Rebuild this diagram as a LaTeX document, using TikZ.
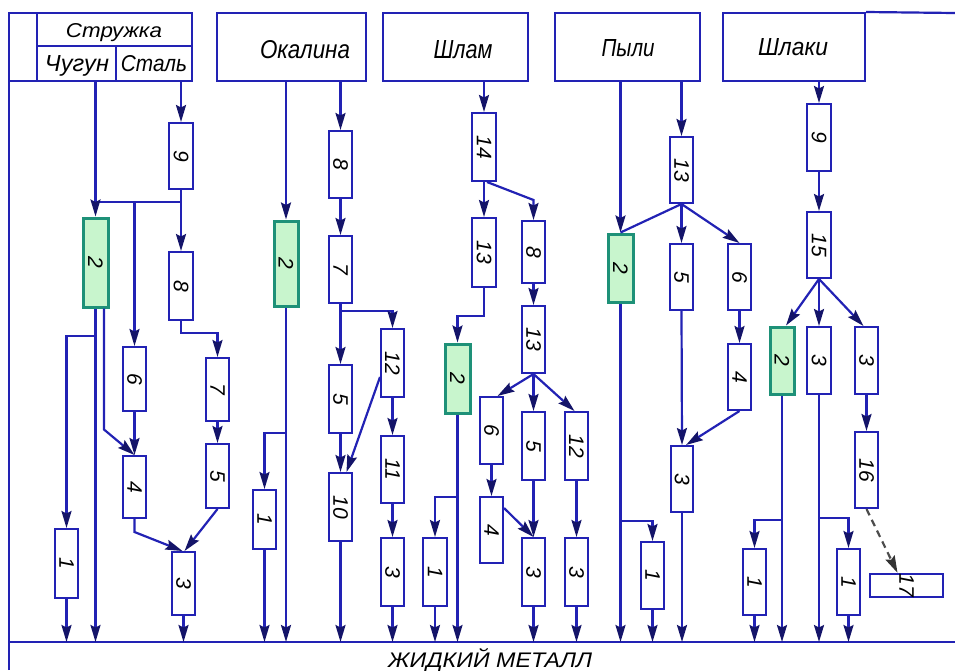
\documentclass[tikz,border=0pt]{standalone}
\usepackage{fontspec}
\setmainfont{Liberation Sans}
\usetikzlibrary{arrows.meta}
\definecolor{wire}{RGB}{34,34,180}
\definecolor{tip}{RGB}{20,20,105}
\definecolor{greenfill}{RGB}{200,245,205}
\definecolor{greenedge}{RGB}{30,145,120}
\tikzset{
  ln/.style={draw=wire, line width=2.2pt},
  arr/.style={ln, -{Stealth[length=17pt,width=10pt,inset=2.5pt,color=tip,fill=tip]}},
  dasharr/.style={ln, draw=black!70, dash pattern=on 7pt off 5pt,
    -{Stealth[length=17pt,width=10pt,inset=2.5pt,color=black!80,fill=black!80]}},
  pbox/.style={draw=wire, line width=2pt, fill=white, inner sep=0pt,
    font=\fontsize{21}{21}\selectfont\itshape},
  hot/.style={draw=greenedge, fill=greenfill, line width=3pt},
  hcell/.style={draw=wire, line width=2pt, inner sep=0pt},
  htxt/.style={inner sep=0pt, anchor=base, font=\itshape},
}
% \procbox[style]{name}{x1}{y1}{x2}{y2}{label}
\newcommand\procbox[7][]{%
  \node[pbox,#1,minimum width={(#5-#3)*1pt},minimum height={(#6-#4)*1pt}]
    (#2) at ({(#3+#5)/2},{(#4+#6)/2}) {\rotatebox{-90}{#7}};}
\begin{document}
\begin{tikzpicture}[x=1pt,y=-1pt]
\useasboundingbox (0,0) rectangle (955,670);

% frame
\coordinate (base) at (9,642);
\draw[ln] (9,670) -- (9,81);
\draw[ln] (base) -- (955,642);

% header cells
\node[hcell,minimum width=28pt,minimum height=68pt] (corner) at (23,47) {};
\node[hcell,minimum width=155pt,minimum height=33pt] (struz) at (114.5,29.5) {};
\node[hcell,minimum width=79pt,minimum height=35pt] (chug) at (76.5,63.5) {};
\node[hcell,minimum width=76pt,minimum height=35pt] (stal) at (154,63.5) {};
\node[hcell,minimum width=149pt,minimum height=68pt] (okal) at (291.5,47) {};
\node[hcell,minimum width=145pt,minimum height=68pt] (shlam) at (455.5,47) {};
\node[hcell,minimum width=145pt,minimum height=68pt] (pyli) at (627.5,47) {};
\node[hcell,minimum width=142pt,minimum height=68pt] (shlaki) at (794,47) {};
\draw[ln] (shlaki.north east) -- (955,13);

\node[htxt] at (114,37) {\resizebox{96pt}{14pt}{Стружка}};
\node[htxt] at (77,71) {\resizebox{64pt}{16pt}{Чугун}};
\node[htxt] at (154,71) {\resizebox{66pt}{16pt}{Сталь}};
\node[htxt] at (305,58) {\resizebox{90pt}{18pt}{Окалина}};
\node[htxt] at (463,58) {\resizebox{59pt}{18pt}{Шлам}};
\node[htxt] at (628,56) {\resizebox{53pt}{17pt}{Пыли}};
\node[htxt] at (793,55) {\resizebox{70pt}{17pt}{Шлаки}};
\node[htxt,anchor=base west] at (388,667) {\resizebox{204pt}{19pt}{ЖИДКИЙ МЕТАЛЛ}};

% ---- chips
\procbox{s9}{169}{123}{193}{189}{9}
\procbox[hot]{s2}{83}{218}{108}{307}{2}
\procbox{s8}{169}{252}{193}{320}{8}
\procbox{s6}{123}{347}{146}{411}{6}
\procbox{s7}{206}{358}{229}{421}{7}
\procbox{s4}{123}{456}{146}{518}{4}
\procbox{s5}{206}{444}{229}{508}{5}
\procbox{s1}{55}{529}{78}{598}{1}
\procbox{s3}{172}{552}{195}{615}{3}

\coordinate (j1) at (95.5,202);
\draw[ln] (chug.south -| j1) -- (j1) -- (j1 -| s9.south);
\draw[arr] (j1) -- (s2.north);
\draw[arr] (stal.south -| s9.north) -- (s9.north);
\draw[arr] (s9.south) -- (s8.north);
\draw[arr] (s6.north |- j1) -- (s6.north);
\draw[arr] (s2.south) -- (s2.south |- base);
\draw[arr] (s2.south |- 0,336) -| (s1.north);
\draw[arr] ([xshift=8.5pt]s2.south) -- ++(0,121) -- (s4.north);
\draw[arr] (s6.south) -- (s4.north);
\draw[arr] (s8.south) -- ++(0,12) -| (s7.north);
\draw[arr] (s7.south) -- (s5.north);
\draw[arr] (s4.south) -- ++(0,13) -- ([xshift=-1pt]s3.north);
\draw[arr] (s5.south) -- ([xshift=1pt]s3.north);
\draw[arr] (s3.south) -- (s3.south |- base);
\draw[arr] (s1.south) -- (s1.south |- base);

% ---- scale
\procbox[hot]{o2}{274}{221}{298}{306}{2}
\procbox{o8}{329}{131}{352}{198}{8}
\procbox{o7}{329}{236}{352}{303}{7}
\procbox{o12}{381}{329}{404}{397}{12}
\procbox{o5}{329}{365}{352}{433}{5}
\procbox{o10}{329}{473}{352}{541}{10}
\procbox{o11}{381}{436}{404}{503}{11}
\procbox{o3}{381}{538}{404}{606}{3}
\procbox{o1}{253}{490}{276}{549}{1}

\draw[arr] (okal.south -| o2.north) -- (o2.north);
\draw[arr] (okal.south -| o8.north) -- (o8.north);
\draw[arr] (o8.south) -- (o7.north);
\draw[arr] (o7.south) -- (o5.north);
\draw[arr] (o7.south) -- ++(0,7) -| (o12.north);
\draw[arr] (o5.south) -- (o10.north);
\draw[arr] ([yshift=-14pt]o12.west) -- ([xshift=6pt]o10.north);
\draw[arr] (o12.south) -- (o11.north);
\draw[arr] (o11.south) -- (o3.north);
\draw[arr] (o10.south) -- (o10.south |- base);
\draw[arr] (o3.south) -- (o3.south |- base);
\draw[arr] (o2.south) -- (o2.south |- base);
\draw[arr] (o2.south |- 0,433) -| (o1.north);
\draw[arr] (o1.south) -- (o1.south |- base);

% ---- sludge
\procbox{h14}{472}{113}{496}{181}{14}
\procbox{h13a}{472}{218}{496}{287}{13}
\procbox{h8}{522}{221}{545}{283}{8}
\procbox{h13b}{522}{306}{545}{373}{13}
\procbox[hot]{h2}{445}{344}{470}{413}{2}
\procbox{h1}{423}{538}{447}{606}{1}
\procbox{h6}{480}{397}{503}{464}{6}
\procbox{h5}{522}{412}{545}{480}{5}
\procbox{h12}{565}{412}{588}{480}{12}
\procbox{h4}{480}{497}{503}{563}{4}
\procbox{h3a}{522}{538}{545}{606}{3}
\procbox{h3b}{565}{538}{588}{606}{3}

\draw[arr] (shlam.south -| h14.north) -- (h14.north);
\draw[arr] (h14.south) -- (h13a.north);
\draw[arr] ([xshift=3pt]h14.south) -- (h8.north |- 0,200) -- (h8.north);
\draw[arr] (h13a.south) -- ++(0,28) -| (h2.north);
\draw[arr] (h2.south) -- (h2.south |- base);
\draw[arr] (h2.south |- 0,497) -| (h1.north);
\draw[arr] (h1.south) -- (h1.south |- base);
\draw[arr] (h8.south) -- (h13b.north);
\draw[arr] (h13b.south) -- ([xshift=6pt]h6.north);
\draw[arr] (h13b.south) -- (h5.north);
\draw[arr] (h13b.south) -- ([xshift=-2pt]h12.north);
\draw[arr] (h6.south) -- (h4.north);
\draw[arr] (h5.south) -- (h3a.north);
\draw[arr] ([yshift=-12pt]h4.north east) -- (h3a.north);
\draw[arr] (h12.south) -- (h3b.north);
\draw[arr] (h3a.south) -- (h3a.south |- base);
\draw[arr] (h3b.south) -- (h3b.south |- base);

% ---- dust
\procbox[hot]{p2}{608}{234}{633}{302}{2}
\procbox{p13}{670}{137}{693}{203}{13}
\procbox{p5}{670}{244}{693}{310}{5}
\procbox{p6}{728}{244}{751}{310}{6}
\procbox{p4}{728}{344}{751}{410}{4}
\procbox{p3}{671}{446}{693}{512}{3}
\procbox{p1}{641}{542}{664}{609}{1}

\draw[arr] (pyli.south -| p2.north) -- (p2.north);
\draw[arr] (pyli.south -| p13.north) -- (p13.north);
\draw[ln] (p13.south) -- (p2.north);
\draw[arr] (p13.south) -- (p5.north);
\draw[arr] (p13.south) -- (p6.north);
\draw[arr] (p6.south) -- (p4.north);
\draw[arr] (p5.south) -- (p3.north);
\draw[arr] (p4.south) -- ([xshift=4pt]p3.north);
\draw[arr] (p3.south) -- (p3.south |- base);
\draw[arr] (p2.south) -- (p2.south |- base);
\draw[arr] (p2.south |- 0,521) -| (p1.north);
\draw[arr] (p1.south) -- (p1.south |- base);

% ---- slag
\procbox{k9}{807}{104}{831}{171}{9}
\procbox{k15}{807}{212}{831}{278}{15}
\procbox[hot]{k2}{770}{327}{794}{394}{2}
\procbox{k3a}{807}{327}{831}{394}{3}
\procbox{k3b}{855}{327}{878}{394}{3}
\procbox{k16}{855}{432}{878}{508}{16}
\procbox{k17}{870}{574}{943}{597}{17}
\procbox{k1a}{743}{549}{766}{615}{1}
\procbox{k1b}{837}{549}{860}{615}{1}

\draw[arr] (shlaki.south -| k9.north) -- (k9.north);
\draw[arr] (k9.south) -- (k15.north);
\draw[arr] (k15.south) -- ([xshift=4pt]k2.north);
\draw[arr] (k15.south) -- (k3a.north);
\draw[arr] (k15.south) -- ([xshift=-3pt]k3b.north);
\draw[arr] (k3b.south) -- (k16.north);
\draw[dasharr] (k16.south) -- ([xshift=-9pt]k17.north);
\draw[arr] (k2.south) -- (k2.south |- base);
\draw[arr] (k2.south |- 0,520) -| (k1a.north);
\draw[arr] (k1a.south) -- (k1a.south |- base);
\draw[arr] (k3a.south) -- (k3a.south |- base);
\draw[arr] (k3a.south |- 0,518) -| (k1b.north);
\draw[arr] (k1b.south) -- (k1b.south |- base);
\end{tikzpicture}
\end{document}
